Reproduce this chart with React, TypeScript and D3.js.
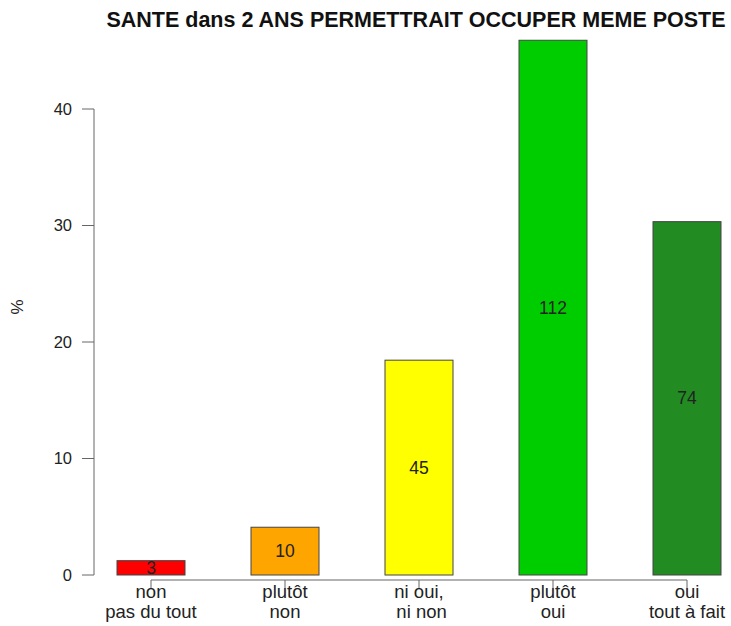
import React from "react";
import * as d3 from "d3";

const categories = ["non\npas du tout", "plutôt\nnon", "ni oui,\n ni non", "plutôt\noui", "oui\ntout à fait"];
const percents = [1.23, 4.1, 18.44, 45.9, 30.33];
const counts = [3, 10, 45, 112, 74];
const colors = ["#FF0000", "#FFA500", "#FFFF00", "#00CD00", "#228B22"];
const yTicks = [0, 10, 20, 30, 40];
const title = "SANTE dans 2 ANS PERMETTRAIT OCCUPER MEME POSTE";

const W = 731;
const H = 626;

export default function App() {
  const x = d3
    .scaleBand<string>()
    .domain(categories)
    .range([84, 754])
    .paddingInner(66 / 134)
    .paddingOuter(33 / 134);
  const y = d3.scaleLinear().domain([0, 40]).range([575, 109]);
  const font = "Liberation Sans, Arial, sans-serif";
  const axisColor = "#666";
  const textColor = "#222";
  const cx = (c: string) => (x(c) as number) + x.bandwidth() / 2;
  const first = cx(categories[0]);
  const last = cx(categories[categories.length - 1]);

  return (
    <svg
      width={W}
      height={H}
      style={{ position: "absolute", left: 0, top: 0, background: "#fff" }}
      fontFamily={font}
    >
      <rect x={0} y={0} width={W} height={H} fill="#fff" />
      <text x={416} y={27} textAnchor="middle" fontSize={21.5} fontWeight="bold" fill="#111">
        {title}
      </text>
      {/* y axis */}
      <line x1={94} x2={94} y1={y(40)} y2={y(0)} stroke={axisColor} strokeWidth={1} />
      {yTicks.map((t) => (
        <g key={t}>
          <line x1={82} x2={94} y1={y(t)} y2={y(t)} stroke={axisColor} strokeWidth={1} />
          <text x={72} y={y(t)} dy="0.35em" textAnchor="end" fontSize={16.5} fill={textColor}>
            {t}
          </text>
        </g>
      ))}
      <text
        transform={`translate(23,307) rotate(-90)`}
        textAnchor="middle"
        fontSize={17}
        fill={textColor}
      >
        %
      </text>
      {/* bars */}
      {categories.map((c, i) => (
        <g key={c}>
          <rect
            x={x(c)}
            y={y(percents[i])}
            width={x.bandwidth()}
            height={y(0) - y(percents[i])}
            fill={colors[i]}
            stroke="#444"
            strokeWidth={1}
          />
          <text
            x={cx(c)}
            y={(y(0) + y(percents[i])) / 2}
            dy="0.35em"
            textAnchor="middle"
            fontSize={17.5}
            fill={textColor}
          >
            {counts[i]}
          </text>
        </g>
      ))}
      {/* x axis */}
      <line x1={first} x2={last} y1={580} y2={580} stroke={axisColor} strokeWidth={1} />
      {categories.map((c) => (
        <g key={"t" + c}>
          <line x1={cx(c)} x2={cx(c)} y1={580} y2={588} stroke={axisColor} strokeWidth={1} />
          {c.split("\n").map((line, j) => (
            <text
              key={j}
              x={cx(c)}
              y={598 + j * 20}
              textAnchor="middle"
              fontSize={18.5}
              fill={textColor}
              style={{ whiteSpace: "pre" }}
            >
              {line}
            </text>
          ))}
        </g>
      ))}
    </svg>
  );
}
